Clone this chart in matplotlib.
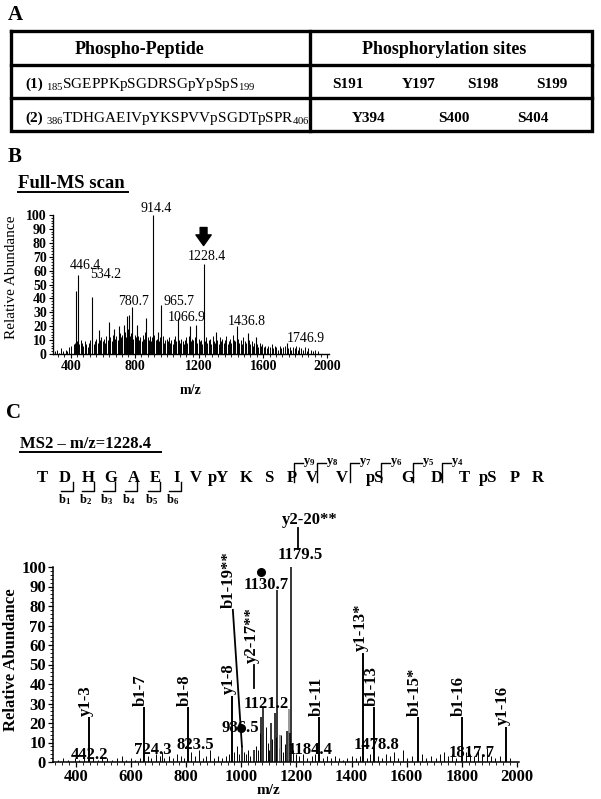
import matplotlib
matplotlib.use("Agg")
import matplotlib.pyplot as plt
from matplotlib.lines import Line2D
from matplotlib.ticker import MultipleLocator, FixedLocator

# ======================= DATA =======================
# Panel A (table)
table_header = ["Phospho-Peptide", "Phosphorylation sites"]
pep1 = ["(1)", "185", "SGEPPKpSGDRSGpYpSpS", "199"]
pep2 = ["(2)", "386", "TDHGAEIVpYKSPVVpSGDTpSPR", "406"]
sites1 = ["S191", "Y197", "S198", "S199"]
sites2 = ["Y394", "S400", "S404"]

# Panel B (full MS scan)
b_major_mz = [432.0, 446.4, 534.2, 578, 640, 670, 700, 731, 750, 762, 780.7, 812,
              872, 914.4, 946, 965.7, 1066.9, 1141, 1183, 1228.4, 1307, 1436.8,
              1503, 1555, 1746.9]
b_major_int = [45, 57, 41, 17, 23, 18, 20, 21, 27, 28, 34, 21,
               26, 100, 16, 35, 26, 20, 21, 65, 16, 20,
               15, 12, 8]
noise_b_mz = [305, 318, 330, 342, 355, 368, 380, 392, 405, 418,
              425, 440, 455, 462, 470, 478, 490, 498, 505, 515,
              522, 545, 552, 560, 568, 585, 592, 600, 608, 615,
              622, 630, 648, 655, 662, 678, 685, 692, 708, 715,
              722, 738, 745, 755, 770, 775, 790, 798, 805, 820,
              828, 835, 842, 850, 858, 865, 880, 888, 895, 902,
              908, 922, 930, 938, 952, 958, 975, 982, 990, 998,
              1005, 1012, 1020, 1028, 1035, 1042, 1050, 1058, 1075, 1082,
              1090, 1098, 1105, 1112, 1120, 1128, 1135, 1150, 1158, 1165,
              1172, 1190, 1198, 1205, 1212, 1220, 1236, 1244, 1252, 1260,
              1268, 1276, 1284, 1292, 1300, 1315, 1322, 1330, 1338, 1346,
              1354, 1362, 1370, 1378, 1386, 1394, 1402, 1410, 1418, 1426,
              1445, 1452, 1460, 1468, 1476, 1484, 1492, 1512, 1520, 1528,
              1536, 1545, 1562, 1570, 1578, 1586, 1594, 1602, 1612, 1622,
              1632, 1642, 1652, 1662, 1672, 1682, 1692, 1702, 1712, 1722,
              1735, 1755, 1765, 1775, 1785, 1795, 1805, 1815, 1825, 1835,
              1845, 1858, 1870, 1882, 1895, 1910, 1925, 1940]
noise_b_int = [2, 3, 1, 4, 2, 3, 2, 5, 6, 7,
               8, 9, 7, 10, 8, 6, 9, 7, 5, 8,
               10, 7, 9, 11, 8, 10, 12, 9, 11, 8,
               13, 10, 12, 9, 14, 11, 13, 10, 15, 12,
               14, 16, 12, 18, 13, 15, 11, 14, 12, 13,
               10, 12, 9, 14, 11, 16, 12, 10, 13, 9,
               12, 14, 10, 11, 9, 12, 13, 8, 10, 11,
               9, 12, 8, 10, 7, 11, 13, 9, 10, 8,
               11, 9, 7, 10, 12, 8, 13, 9, 11, 10,
               12, 8, 11, 9, 10, 7, 9, 12, 8, 10,
               11, 7, 13, 9, 8, 10, 7, 12, 9, 11,
               8, 10, 13, 7, 9, 11, 8, 14, 10, 9,
               11, 8, 10, 7, 12, 9, 8, 10, 7, 9,
               6, 8, 7, 5, 8, 6, 7, 5, 6, 4,
               6, 5, 7, 4, 6, 5, 3, 6, 4, 5,
               6, 4, 5, 3, 5, 4, 6, 3, 5, 4,
               3, 5, 2, 4, 3, 2, 3, 2]
b_labels = ["446.4", "534.2", "780.7", "914.4", "965.7", "1066.9", "1228.4",
            "1436.8", "1746.9"]

# Panel C (MS2 of m/z 1228.4)
seq_letters = ["T", "D", "H", "G", "A", "E", "I", "V", "pY", "K", "S", "P",
               "V", "V", "pS", "G", "D", "T", "pS", "P", "R"]
b_frag = ["1", "2", "3", "4", "5", "6"]
y_frag = ["9", "8", "7", "6", "5", "4"]

c_ion_labels = ["y1-3", "b1-7", "b1-8", "y1-8", "b1-11", "y1-13*", "b1-13",
                "b1-15*", "b1-16", "y1-16"]
c_ion_mz = [447, 646, 806, 966, 1282, 1442, 1482, 1641, 1801, 1961]
c_ion_int = [23, 28, 28, 34, 23, 56, 28, 23, 23, 18]
c_main_mz = [1002, 1046, 1071, 1078, 1107, 1121.2, 1130.7, 1166, 1176, 1179.5]
c_main_int = [8, 6, 23, 28, 20, 25, 88, 16, 15, 100]
c_grey_mz = [1140, 1173]
c_grey_int = [14, 27]
noise_c_mz = [335, 352, 372, 395, 410, 430, 462, 478, 495, 512,
              530, 548, 565, 580, 598, 615, 632, 660, 672, 690,
              705, 712, 720, 738, 752, 768, 780, 792, 818, 830,
              845, 860, 872, 885, 900, 915, 930, 945, 955, 975,
              985, 992, 1010, 1018, 1025, 1032, 1052, 1060, 1066, 1088,
              1095, 1100, 1112, 1125, 1138, 1145, 1150, 1158, 1170, 1188,
              1198, 1210, 1225, 1240, 1255, 1268, 1295, 1310, 1325, 1340,
              1355, 1370, 1385, 1400, 1415, 1430, 1455, 1468, 1495, 1510,
              1525, 1540, 1555, 1570, 1585, 1600, 1620, 1655, 1670, 1690,
              1705, 1720, 1735, 1750, 1765, 1780, 1815, 1830, 1845, 1860,
              1875, 1890, 1905, 1920, 1940, 1975]
noise_c_int = [1, 2, 1, 2, 1, 3, 2, 1, 3, 2,
               1, 2, 3, 1, 2, 1, 2, 3, 2, 4,
               3, 5, 2, 3, 2, 4, 3, 2, 5, 3,
               6, 2, 3, 6, 2, 3, 2, 3, 4, 5,
               8, 4, 5, 4, 6, 3, 8, 6, 15, 18,
               10, 6, 12, 13, 7, 14, 5, 9, 16, 6,
               4, 3, 4, 2, 3, 4, 2, 3, 2, 3,
               2, 1, 2, 3, 2, 3, 2, 4, 3, 2,
               4, 3, 5, 2, 6, 2, 3, 4, 2, 3,
               2, 4, 5, 3, 4, 2, 5, 4, 3, 6,
               4, 7, 3, 2, 3, 2]
c_value_labels = ["442.2", "724.3", "823.5", "986.5", "1121.2", "1130.7",
                  "1179.5", "1184.4", "1478.8", "1817.7"]

# ======================= LAYOUT =======================
W, H = 601, 799
plt.rcParams["font.family"] = ["Liberation Serif", "DejaVu Serif"]
plt.rcParams["mathtext.fontset"] = "custom"
plt.rcParams["mathtext.rm"] = "Liberation Serif"
plt.rcParams["mathtext.bf"] = "Liberation Serif:bold"
plt.rcParams["mathtext.it"] = "Liberation Serif:italic"

fig = plt.figure(figsize=(W / 100, H / 100), dpi=100)


def fx(x):
    return x / W


def fy(y):
    return 1 - y / H


def ftext(x, y, s, **kw):
    return fig.text(fx(x), fy(y), s, **kw)


def fline(xs, ys, **kw):
    fig.add_artist(Line2D([fx(x) for x in xs], [fy(y) for y in ys], **kw))


def add_axes_px(l, t, r, b):
    return fig.add_axes([fx(l), fy(b), (r - l) / W, (b - t) / H])


# ---------------- Panel A ----------------
ftext(15, 15, "A", fontsize=15, fontweight="bold", ha="center", va="center")
lw_tab = 2.4
fline([11, 592, 592, 11, 11], [31, 31, 131, 131, 31], color="k", lw=lw_tab,
      solid_joinstyle="miter")
fline([310, 310], [31, 131], color="k", lw=lw_tab)
fline([11, 592], [65, 65], color="k", lw=lw_tab)
fline([11, 592], [98, 98], color="k", lw=lw_tab)
ftext(140, 49, table_header[0], fontsize=13, fontweight="bold", ha="center", va="center")
ftext(444, 49, table_header[1], fontsize=13, fontweight="bold", ha="center", va="center")

for row, base in ((pep1, 88), (pep2, 122)):
    ftext(25, base, row[0], fontsize=11, fontweight="bold", ha="left", va="baseline")
    ftext(46, base, r"$_{%s}$%s$_{%s}$" % (row[1], row[2], row[3]),
          fontsize=11, ha="left", va="baseline")
for s, x in zip(sites1, [348, 419, 483, 552]):
    ftext(x, 88, s, fontsize=11, fontweight="bold", ha="center", va="baseline")
for s, x in zip(sites2, [369, 454, 533]):
    ftext(x, 122, s, fontsize=11, fontweight="bold", ha="center", va="baseline")

# ---------------- Panel B ----------------
ftext(15, 157, "B", fontsize=15, fontweight="bold", ha="center", va="center")
ftext(18, 188, "Full-MS scan", fontsize=13.5, fontweight="bold", ha="left", va="baseline")
fline([18, 128], [192, 192], color="k", lw=1.4)

axB = add_axes_px(53, 215, 329, 354)
axB.vlines(noise_b_mz, 0, noise_b_int, color="k", lw=0.7)
axB.vlines(b_major_mz, 0, b_major_int, color="k", lw=0.8)
axB.set_xlim(290, 2010)
axB.set_ylim(0, 100)
for sp in ("top", "right"):
    axB.spines[sp].set_visible(False)
for sp in ("left", "bottom"):
    axB.spines[sp].set_linewidth(1.0)
axB.xaxis.set_major_locator(FixedLocator([400, 800, 1200, 1600, 2000]))
axB.xaxis.set_minor_locator(MultipleLocator(40))
axB.yaxis.set_major_locator(MultipleLocator(10))
axB.yaxis.set_minor_locator(MultipleLocator(2))
axB.tick_params(axis="both", which="major", direction="out", length=3, width=0.8,
                labelsize=10, pad=1.5)
axB.tick_params(axis="both", which="minor", direction="out", length=1.8, width=0.6)
for lab in axB.get_xticklabels() + axB.get_yticklabels():
    lab.set_fontweight("bold")
axB.set_xlabel("m/z", fontsize=10, fontweight="bold", labelpad=8)
ftext(12, 277, "Relative Abundance", fontsize=11, rotation=90, ha="center", va="center")

b_label_pos = [(489, 64), (620, 57.5), (789, 38), (932, 105), (1075, 38),
               (1125, 26.6), (1250, 70.5), (1499, 23.7), (1867, 11.5)]
for s, (mx, my) in zip(b_labels, b_label_pos):
    axB.text(mx, my, s, fontsize=10, ha="center", va="center", clip_on=False)
axB.annotate("", xy=(1228.4, 78), xytext=(1228.4, 91), annotation_clip=False,
             arrowprops=dict(arrowstyle="simple,head_length=0.7,head_width=1.0,tail_width=0.45",
                             color="k", mutation_scale=11, shrinkA=0, shrinkB=0))

# ---------------- Panel C ----------------
ftext(13, 413, "C", fontsize=15, fontweight="bold", ha="center", va="center")
ftext(20, 448, "MS2 \u2013 m/z=1228.4", fontsize=12, fontweight="bold", ha="left", va="baseline")
fline([20, 161], [452, 452], color="k", lw=1.4)

seq_x = [42, 65, 88, 111, 134, 155, 177, 196, 218, 246, 269, 292,
         312, 342, 375, 408, 437, 464, 488, 515, 538]
for s, x in zip(seq_letters, seq_x):
    ftext(x, 482, s, fontsize=12, fontweight="bold", ha="center", va="baseline")
# b-ion brackets (under D..I)
for n, xv in zip(b_frag, [73, 94, 115, 137, 160, 181]):
    fline([xv, xv, xv - 12], [482, 491, 491], color="k", lw=1.0)
    ftext(xv - 8, 503, r"$\mathbf{b_{%s}}$" % n, fontsize=9, ha="center", va="baseline")
# y-ion brackets (above P..D)
for n, xv in zip(y_frag, [294, 317, 350, 381, 413, 442]):
    fline([xv, xv, xv + 9], [482, 463, 463], color="k", lw=1.0)
    ftext(xv + 9, 464, r"$\mathbf{y_{%s}}$" % n, fontsize=9, ha="left", va="baseline")

axC = add_axes_px(53, 567, 519, 762)
axC.vlines(noise_c_mz, 0, noise_c_int, color="k", lw=0.7)
axC.vlines(c_grey_mz, 0, c_grey_int, color="#888888", lw=1.2)
axC.vlines(c_main_mz, 0, c_main_int, color="k", lw=1.1)
axC.vlines(c_ion_mz, 0, c_ion_int, color="k", lw=1.4)
axC.set_xlim(316, 2008)
axC.set_ylim(0, 100)
for sp in ("top", "right"):
    axC.spines[sp].set_visible(False)
for sp in ("left", "bottom"):
    axC.spines[sp].set_linewidth(1.1)
axC.xaxis.set_major_locator(MultipleLocator(200))
axC.xaxis.set_minor_locator(MultipleLocator(25))
axC.yaxis.set_major_locator(MultipleLocator(10))
axC.yaxis.set_minor_locator(MultipleLocator(2))
axC.tick_params(axis="both", which="major", direction="out", length=3.5, width=0.9,
                labelsize=12, pad=1.5)
axC.tick_params(axis="both", which="minor", direction="out", length=2, width=0.6)
for lab in axC.get_xticklabels() + axC.get_yticklabels():
    lab.set_fontweight("bold")
ftext(268, 790, "m/z", fontsize=11, fontweight="bold", ha="center", va="center")
ftext(11, 660, "Relative Abundance", fontsize=12, fontweight="bold", rotation=90,
      ha="center", va="center")

# rotated ion labels
for s, mx, iv in zip(c_ion_labels, c_ion_mz, c_ion_int):
    axC.text(mx - 10, iv + 0.8, s, fontsize=12, fontweight="bold", rotation=90,
             ha="center", va="bottom", clip_on=False)
axC.text(966 - 10, 79, "b1-19**", fontsize=12, fontweight="bold", rotation=90,
         ha="center", va="bottom", clip_on=False)
axC.plot([969, 1002], [78, 8], color="k", lw=1.3, clip_on=False)
axC.text(1039, 51, "y2-17**", fontsize=12, fontweight="bold", rotation=90,
         ha="center", va="bottom", clip_on=False)
axC.plot([1046, 1046], [50, 38], color="k", lw=1.3, clip_on=False)
axC.text(1249, 124, "y2-20**", fontsize=12, fontweight="bold", ha="center",
         va="center", clip_on=False)
axC.plot([1206, 1206], [120, 109], color="k", lw=1.3, clip_on=False)

c_value_pos = [(450, 3.6), (679, 6), (832, 8.7), (995, 17.4), (1089, 30),
               (1089, 91), (1213, 106), (1249, 6), (1492, 8.7), (1837, 4.6)]
for s, (mx, my) in zip(c_value_labels, c_value_pos):
    axC.text(mx, my, s, fontsize=12, fontweight="bold", ha="center", va="center",
             clip_on=False)
axC.plot([1071, 999], [97.4, 17.4], "o", color="k", ms=5.5, clip_on=False)

fig.savefig("out.png", dpi=100)
